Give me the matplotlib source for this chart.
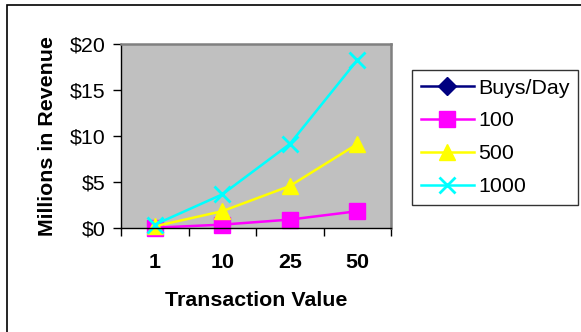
import matplotlib
matplotlib.use("Agg")
import matplotlib.pyplot as plt
from matplotlib.patches import Rectangle
from matplotlib.ticker import FuncFormatter

categories = ["1", "10", "25", "50"]
rev_100 = [0.0365, 0.365, 0.9125, 1.825]
rev_500 = [0.1825, 1.825, 4.5625, 9.125]
rev_1000 = [0.365, 3.65, 9.125, 18.25]
y_ticks = [0, 5, 10, 15, 20]

plt.rcParams['font.family'] = ['Liberation Sans', 'DejaVu Sans']
FS = 15.4

fig = plt.figure(figsize=(5.81, 3.32), dpi=100)
fig.patch.set_facecolor('white')
# outer chart border
fig.add_artist(Rectangle((7/581, -0.1), 1.2, 1 - 5/332 + 0.1, transform=fig.transFigure,
                         fill=False, edgecolor='black', linewidth=1.2))

ax = fig.add_axes([121/581, 1 - 228/332, (391 - 121)/581, (228 - 44)/332])
ax.set_facecolor('#C0C0C0')

x = list(range(len(categories)))
ax.plot([], [], color='#000080', marker='D', markersize=9, linewidth=1.8, label='Buys/Day')
ax.plot(x, rev_100, color='#FF00FF', marker='s', markersize=11, linewidth=1.8, label='100', clip_on=False)
ax.plot(x, rev_500, color='#FFFF00', marker='^', markersize=12, linewidth=1.8, label='500', clip_on=False)
ax.plot(x, rev_1000, color='#00FFFF', marker='x', markersize=11, markeredgewidth=2,
        linewidth=1.8, label='1000', clip_on=False)

ax.set_xlim(-0.5, len(categories) - 0.5)
ax.set_ylim(0, 20)
ax.set_yticks(y_ticks)
ax.yaxis.set_major_formatter(FuncFormatter(lambda v, p: f"${v:.0f}"))
ax.set_xticks([i - 0.5 for i in range(len(categories) + 1)])
ax.set_xticklabels([])
ax.set_xticks(x, minor=True)
ax.set_xticklabels(categories, minor=True, fontsize=FS, fontweight='bold')
ax.tick_params(axis='x', which='minor', length=0, pad=18)
ax.tick_params(axis='x', which='major', direction='out', length=6, width=1, color='black')
ax.tick_params(axis='y', direction='out', length=6, width=1, color='black', labelsize=FS, pad=5)

for s in ['top', 'right']:
    ax.spines[s].set_color('#808080')
    ax.spines[s].set_linewidth(1.8)
for s in ['left', 'bottom']:
    ax.spines[s].set_color('black')
    ax.spines[s].set_linewidth(1.0)

ax.set_xlabel('Transaction Value', fontsize=FS, fontweight='bold', labelpad=14)
ax.set_ylabel('Millions in Revenue', fontsize=FS, fontweight='bold', labelpad=9)

leg = fig.legend(loc='upper left', bbox_to_anchor=(412/581, 1 - 70/332), fontsize=FS,
                 frameon=True, fancybox=False, edgecolor='black', handlelength=2.5,
                 handletextpad=0.2, labelspacing=0.65, borderpad=0.4, borderaxespad=0)
leg.get_frame().set_linewidth(1.0)

fig.savefig('out.png', dpi=100)
